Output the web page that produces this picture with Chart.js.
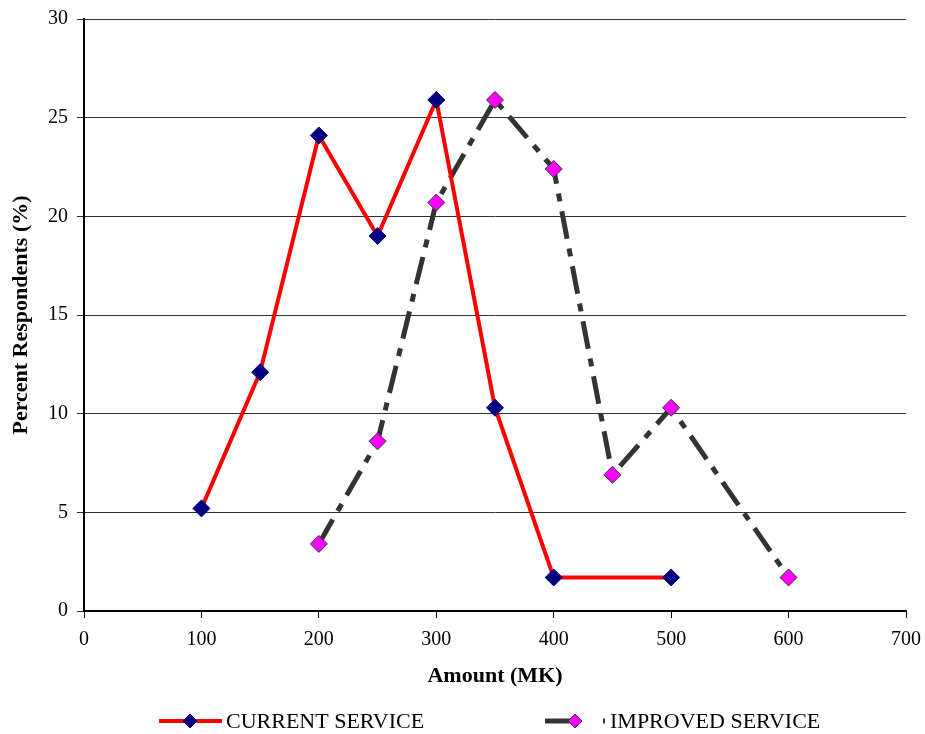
<!DOCTYPE html>
<html>
<head>
<meta charset="utf-8">
<script src="https://cdn.jsdelivr.net/npm/chart.js@4/dist/chart.umd.min.js"></script>
<style>
  html, body { margin: 0; padding: 0; background: #fff; }
  #wrap { width: 925px; height: 734px; }
</style>
</head>
<body>
<div id="wrap"><canvas id="c" width="925" height="734"></canvas></div>
<script>
// Amount offered (MK) and percent of respondents for each service level
const currentAmounts = [100, 150, 200, 250, 300, 350, 400, 500];
const currentPercent = [5.2, 12.1, 24.1, 19.0, 25.9, 10.3, 1.7, 1.7];

const improvedAmounts = [200, 250, 300, 350, 400, 450, 500, 600];
const improvedPercent = [3.4, 8.6, 20.7, 25.9, 22.4, 6.9, 10.3, 1.7];

const seriesNames = ['CURRENT SERVICE', 'IMPROVED SERVICE'];
const xAxisTitle = 'Amount (MK)';
const yAxisTitle = 'Percent Respondents (%)';

const FONT = '"Liberation Serif", "Times New Roman", serif';
const DASH = [28, 10, 8, 10];

const toPoints = (xs, ys) => xs.map((x, i) => ({ x: x, y: ys[i] }));

// Legend drawn beneath the axis title: line sample + diamond marker + label
const bottomLegend = {
  id: 'bottomLegend',
  afterDraw(chart) {
    const ctx = chart.ctx;
    const y = 721;
    const items = [
      { ds: chart.data.datasets[0], x0: 159, x1: 222, dash: [], mx: 190, tx: 226 },
      { ds: chart.data.datasets[1], x0: 545, x1: 605, dash: [31, 27, 2, 40], mx: 575, tx: 610 }
    ];
    ctx.save();
    items.forEach(it => {
      const ds = it.ds;
      ctx.beginPath();
      ctx.setLineDash(it.dash);
      ctx.lineWidth = ds.borderWidth;
      ctx.strokeStyle = ds.borderColor;
      ctx.moveTo(it.x0, y);
      ctx.lineTo(it.x1, y);
      ctx.stroke();
      ctx.setLineDash([]);
      const r = 7;
      ctx.beginPath();
      ctx.moveTo(it.mx, y - r);
      ctx.lineTo(it.mx + r, y);
      ctx.lineTo(it.mx, y + r);
      ctx.lineTo(it.mx - r, y);
      ctx.closePath();
      ctx.fillStyle = ds.pointBackgroundColor;
      ctx.fill();
      ctx.lineWidth = 1;
      ctx.strokeStyle = ds.pointBorderColor;
      ctx.stroke();
      ctx.fillStyle = '#000';
      ctx.font = '22px ' + FONT;
      ctx.textBaseline = 'middle';
      ctx.textAlign = 'left';
      ctx.fillText(ds.label, it.tx, y + 1);
    });
    ctx.restore();
  }
};

new Chart(document.getElementById('c'), {
  type: 'line',
  data: {
    datasets: [
      {
        label: seriesNames[0],
        data: toPoints(currentAmounts, currentPercent),
        borderColor: '#FF0000',
        borderWidth: 4,
        pointStyle: 'rectRot',
        pointRadius: 8.5,
        pointBackgroundColor: '#000080',
        pointBorderColor: '#000080',
        pointBorderWidth: 1,
        tension: 0,
        fill: false
      },
      {
        label: seriesNames[1],
        data: toPoints(improvedAmounts, improvedPercent),
        borderColor: '#333333',
        borderWidth: 5,
        borderDash: DASH,
        pointStyle: 'rectRot',
        pointRadius: 8.5,
        pointBackgroundColor: '#FF00FF',
        pointBorderColor: '#333333',
        pointBorderWidth: 1,
        tension: 0,
        fill: false
      }
    ]
  },
  options: {
    responsive: false,
    animation: false,
    layout: { padding: { top: 19, right: 19, bottom: 41, left: 0 } },
    plugins: {
      legend: { display: false },
      tooltip: { enabled: false }
    },
    scales: {
      x: {
        type: 'linear',
        min: 0,
        max: 700,
        ticks: { stepSize: 100, color: '#000', font: { family: FONT, size: 20 }, padding: 10, maxRotation: 0 },
        grid: { display: true, drawOnChartArea: false, drawTicks: true, tickLength: 7, color: '#000' },
        border: { color: '#000', width: 2 },
        title: { display: true, text: xAxisTitle, color: '#000', font: { family: FONT, size: 22, weight: 'bold' }, padding: { top: 4, bottom: 3 } },
        afterFit(scale) { scale.height = 82; scale.paddingRight = 0; scale.paddingLeft = 0; }
      },
      y: {
        min: 0,
        max: 30,
        ticks: { stepSize: 5, color: '#000', font: { family: FONT, size: 20 }, padding: 9 },
        grid: { color: '#333', lineWidth: 1, drawTicks: true, tickLength: 7 },
        border: { color: '#000', width: 2 },
        title: { display: true, text: yAxisTitle, color: '#000', font: { family: FONT, size: 22, weight: 'bold' }, padding: { top: 8, bottom: 0 } },
        afterFit(scale) { scale.width = 84; scale.paddingTop = 0; scale.paddingBottom = 0; }
      }
    }
  },
  plugins: [bottomLegend]
});
</script>
</body>
</html>
